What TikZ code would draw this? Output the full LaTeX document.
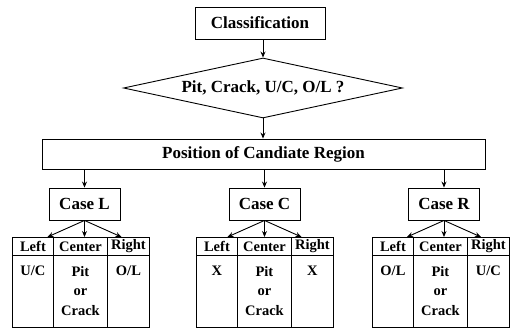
\documentclass[tikz,border=0pt]{standalone}
\usepackage{fontspec}
\setmainfont{Liberation Serif}
\usetikzlibrary{shapes.geometric,arrows.meta,calc}
\tikzset{
  box/.style={draw, line width=0.9pt, rectangle, inner sep=0pt, font=\fontsize{17}{19}\selectfont\bfseries},
  hcell/.style={draw, line width=0.9pt, rectangle, inner sep=0pt, anchor=north west, minimum height=18pt, font=\fontsize{14.5}{16}\selectfont\bfseries},
  bcell/.style={draw, line width=0.9pt, rectangle, inner sep=0pt, anchor=north west, minimum height=72pt},
  btext/.style={anchor=north, inner sep=0pt, align=center, font=\fontsize{14.5}{19.5}\selectfont\bfseries},
  arr/.style={line width=0.9pt, -{Stealth[length=6pt,width=5pt]}},
}
\newcommand\casetable[5]{%
  \node[hcell, minimum width=41pt] (#1hl) at (#2,237) {Left};
  \node[hcell, minimum width=54pt] (#1hc) at (#2+41,237) {Center};
  \node[hcell, minimum width=42pt] (#1hr) at (#2+95,237) {Right};
  \node[bcell, minimum width=41pt] (#1bl) at (#2,255) {};
  \node[bcell, minimum width=54pt] (#1bc) at (#2+41,255) {};
  \node[bcell, minimum width=42pt] (#1br) at (#2+95,255) {};
  \node[btext] (#1tl) at ($(#1bl.north)+(0,11)$) {#3};
  \node[btext] (#1tc) at ($(#1bc.north)+(0,11)$) {#4};
  \node[btext] (#1tr) at ($(#1br.north)+(0,11)$) {#5};
}
\begin{document}
\begin{tikzpicture}[x=1pt,y=-1pt]
\fill[white] (0,0) rectangle (520,328);
\useasboundingbox (0,0) rectangle (520,328);

\node[box, minimum width=130pt, minimum height=32pt] (cls) at (260,23) {Classification};
\node[draw, diamond, line width=0.9pt, aspect=4.65, minimum width=279pt, minimum height=60pt, inner sep=0pt, font=\fontsize{17}{19}\selectfont\bfseries] (dia) at (263,88) {Pit, Crack, U/C, O/L ?};
\node[box, minimum width=443pt, minimum height=30pt] (pos) at (263.5,154) {Position of Candiate Region};
\node[box, minimum width=71pt, minimum height=32pt] (cL) at (84.5,204) {Case L};
\node[box, minimum width=71pt, minimum height=32pt] (cC) at (264.5,204) {Case C};
\node[box, minimum width=71pt, minimum height=32pt] (cR) at (444,204) {Case R};

\draw[arr] (cls.south -| dia.north) -- (dia.north);
\draw[arr] (dia.south) -- (dia.south |- pos.north);
\foreach \c in {cL,cC,cR} \draw[arr] (\c.north |- pos.south) -- (\c.north);

\casetable{L}{12}{U/C}{Pit\\or\\Crack}{O/L}
\casetable{C}{196}{X}{Pit\\or\\Crack}{X}
\casetable{R}{372}{O/L}{Pit\\or\\Crack}{U/C}

\coordinate (La) at (47.5,237); \coordinate (Lb) at (84.5,237); \coordinate (Lc) at (121.5,237);
\coordinate (Ca) at (227.5,237); \coordinate (Cb) at (264.5,237); \coordinate (Cc) at (301.5,237);
\coordinate (Ra) at (407,237); \coordinate (Rb) at (444,237); \coordinate (Rc) at (481,237);
\foreach \p in {L,C,R} {
  \draw[arr] (c\p.south) -- (\p a);
  \draw[arr] (c\p.south) -- (\p b);
  \draw[arr] (c\p.south) -- (\p c);
}
\end{tikzpicture}
\end{document}
